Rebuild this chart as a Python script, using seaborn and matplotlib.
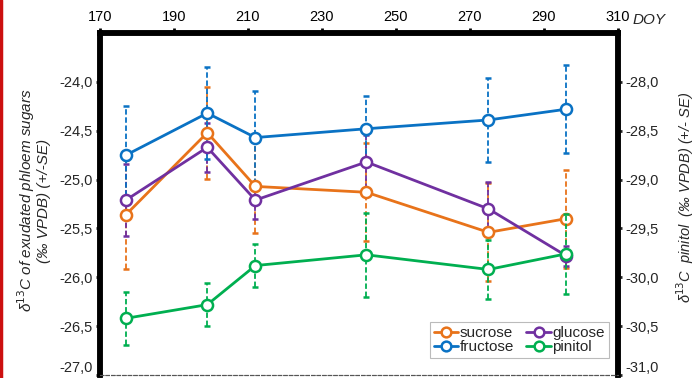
import numpy as np
import pandas as pd
import matplotlib
matplotlib.use("Agg")
import matplotlib.pyplot as plt
import seaborn as sns
from matplotlib.lines import Line2D
from matplotlib.ticker import FuncFormatter

# ---- data ----
doy = [177, 199, 212, 242, 275, 296]
sucrose = [-25.36, -24.52, -25.07, -25.13, -25.54, -25.40]
sucrose_se = [0.56, 0.47, 0.48, 0.50, 0.50, 0.50]
fructose = [-24.75, -24.32, -24.57, -24.48, -24.39, -24.28]
fructose_se = [0.50, 0.47, 0.48, 0.34, 0.43, 0.45]
glucose = [-25.21, -24.67, -25.21, -24.82, -25.30, -25.78]
glucose_se = [0.37, 0.25, 0.19, 0.28, 0.28, 0.10]
pinitol = [-30.42, -30.28, -29.88, -29.77, -29.92, -29.76]
pinitol_se = [0.27, 0.22, 0.22, 0.43, 0.30, 0.41]

series_names = ["sucrose", "fructose", "glucose", "pinitol"]
colors = {"sucrose": "#E8731A", "fructose": "#0A72C4",
          "glucose": "#7030A0", "pinitol": "#00AF50"}
x_ticks = [170, 190, 210, 230, 250, 270, 290, 310]
left_ticks = [-27.0, -26.5, -26.0, -25.5, -25.0, -24.5, -24.0]
right_ticks = [-31.0, -30.5, -30.0, -29.5, -29.0, -28.5, -28.0]

sns.set_theme(style="white")
plt.rcParams["font.family"] = ["Liberation Sans", "DejaVu Sans"]

rows = []
for name, vals, ses in [("sucrose", sucrose, sucrose_se),
                        ("fructose", fructose, fructose_se),
                        ("glucose", glucose, glucose_se),
                        ("pinitol", pinitol, pinitol_se)]:
    for d, v, s in zip(doy, vals, ses):
        rows.append({"doy": d, "value": v, "se": s, "series": name})
df = pd.DataFrame(rows)

fig = plt.figure(figsize=(6.99, 3.78), dpi=100)
ax = fig.add_axes([100/699, 1-375/378, 518/699, 342/378])
ax2 = ax.twinx()

def draw(axis, name):
    sub = df[df.series == name]
    c = colors[name]
    eb = axis.errorbar(sub.doy, sub.value, yerr=sub.se, fmt="none", ecolor=c,
                       elinewidth=1.3, capsize=2.2, capthick=1.8, zorder=2)
    for lc in eb[2]:
        lc.set_linestyle((0, (3, 1.5)))
    sns.lineplot(data=sub, x="doy", y="value", ax=axis, color=c, lw=2.0,
                 marker="o", markersize=8, markerfacecolor="white",
                 markeredgecolor=c, markeredgewidth=1.8, legend=False,
                 errorbar=None, zorder=3)

for name in ["sucrose", "glucose", "fructose"]:
    draw(ax, name)
draw(ax2, "pinitol")

fmt = FuncFormatter(lambda v, p: f"{v:.1f}".replace(".", ","))

ax.set_xlim(170, 310)
ax.set_ylim(-27.0, -23.5)
ax2.set_ylim(-31.0, -27.5)
ax.set_xticks(x_ticks)
ax.xaxis.tick_top()
ax.set_yticks(left_ticks)
ax2.set_yticks(right_ticks)
ax.yaxis.set_major_formatter(fmt)
ax2.yaxis.set_major_formatter(fmt)
ax.set_xlabel("")
ax.set_ylabel("")
ax2.set_xlabel("")
ax2.set_ylabel("")

ax.tick_params(axis="x", top=True, bottom=False, labeltop=True, labelbottom=False,
               length=3.5, width=2, pad=3, labelsize=10.5, colors="black")
ax.tick_params(axis="y", left=True, length=3, width=2, pad=2, labelsize=10.5)
ax2.tick_params(axis="y", right=True, length=3, width=2, pad=2, labelsize=10.5)

for a in (ax, ax2):
    for side in ("left", "right", "top"):
        a.spines[side].set_visible(True)
        a.spines[side].set_color("black")
        a.spines[side].set_linewidth(4)
    a.spines["bottom"].set_color("#555555")
    a.spines["bottom"].set_linewidth(0.8)
    a.spines["bottom"].set_linestyle((0, (3, 2)))
ax2.patch.set_visible(False)

ax.text(-0.129, 0.51, "δ$^{13}$C of exudated phloem sugars\n(‰ VPDB) (+/-SE)",
        transform=ax.transAxes, rotation=90, ha="center", va="center",
        fontsize=11, style="italic", linespacing=1.05)
ax2.text(1.129, 0.52, "δ$^{13}$C  pinitol  (‰ VPDB) (+/- SE)",
         transform=ax2.transAxes, rotation=90, ha="center", va="center",
         fontsize=10.5, style="italic")
fig.text(649/699, 1-20/378, "DOY", ha="center", va="center",
         fontsize=11, style="italic")

handles = [Line2D([], [], color=colors[n], lw=2.0, marker="o", markersize=7,
                  markerfacecolor="white", markeredgecolor=colors[n],
                  markeredgewidth=1.8) for n in series_names]
leg = ax2.legend(handles, series_names, ncol=2, loc="lower right",
                 bbox_to_anchor=(0.982, 0.05), fontsize=11, frameon=True,
                 fancybox=False, edgecolor="#aaaaaa", handlelength=1.6,
                 handletextpad=0.1, columnspacing=0.8, labelspacing=0.0,
                 borderpad=0.25, borderaxespad=0)
leg.get_frame().set_linewidth(0.8)

fig.add_artist(Line2D([0.002, 0.002], [0, 1], transform=fig.transFigure,
                      color="#cc1010", lw=2.5))

fig.canvas.draw()
for a in (ax, ax2):
    labs = a.get_yticklabels()
    labs[0].set_va("bottom")

fig.savefig("out.png", dpi=100)
